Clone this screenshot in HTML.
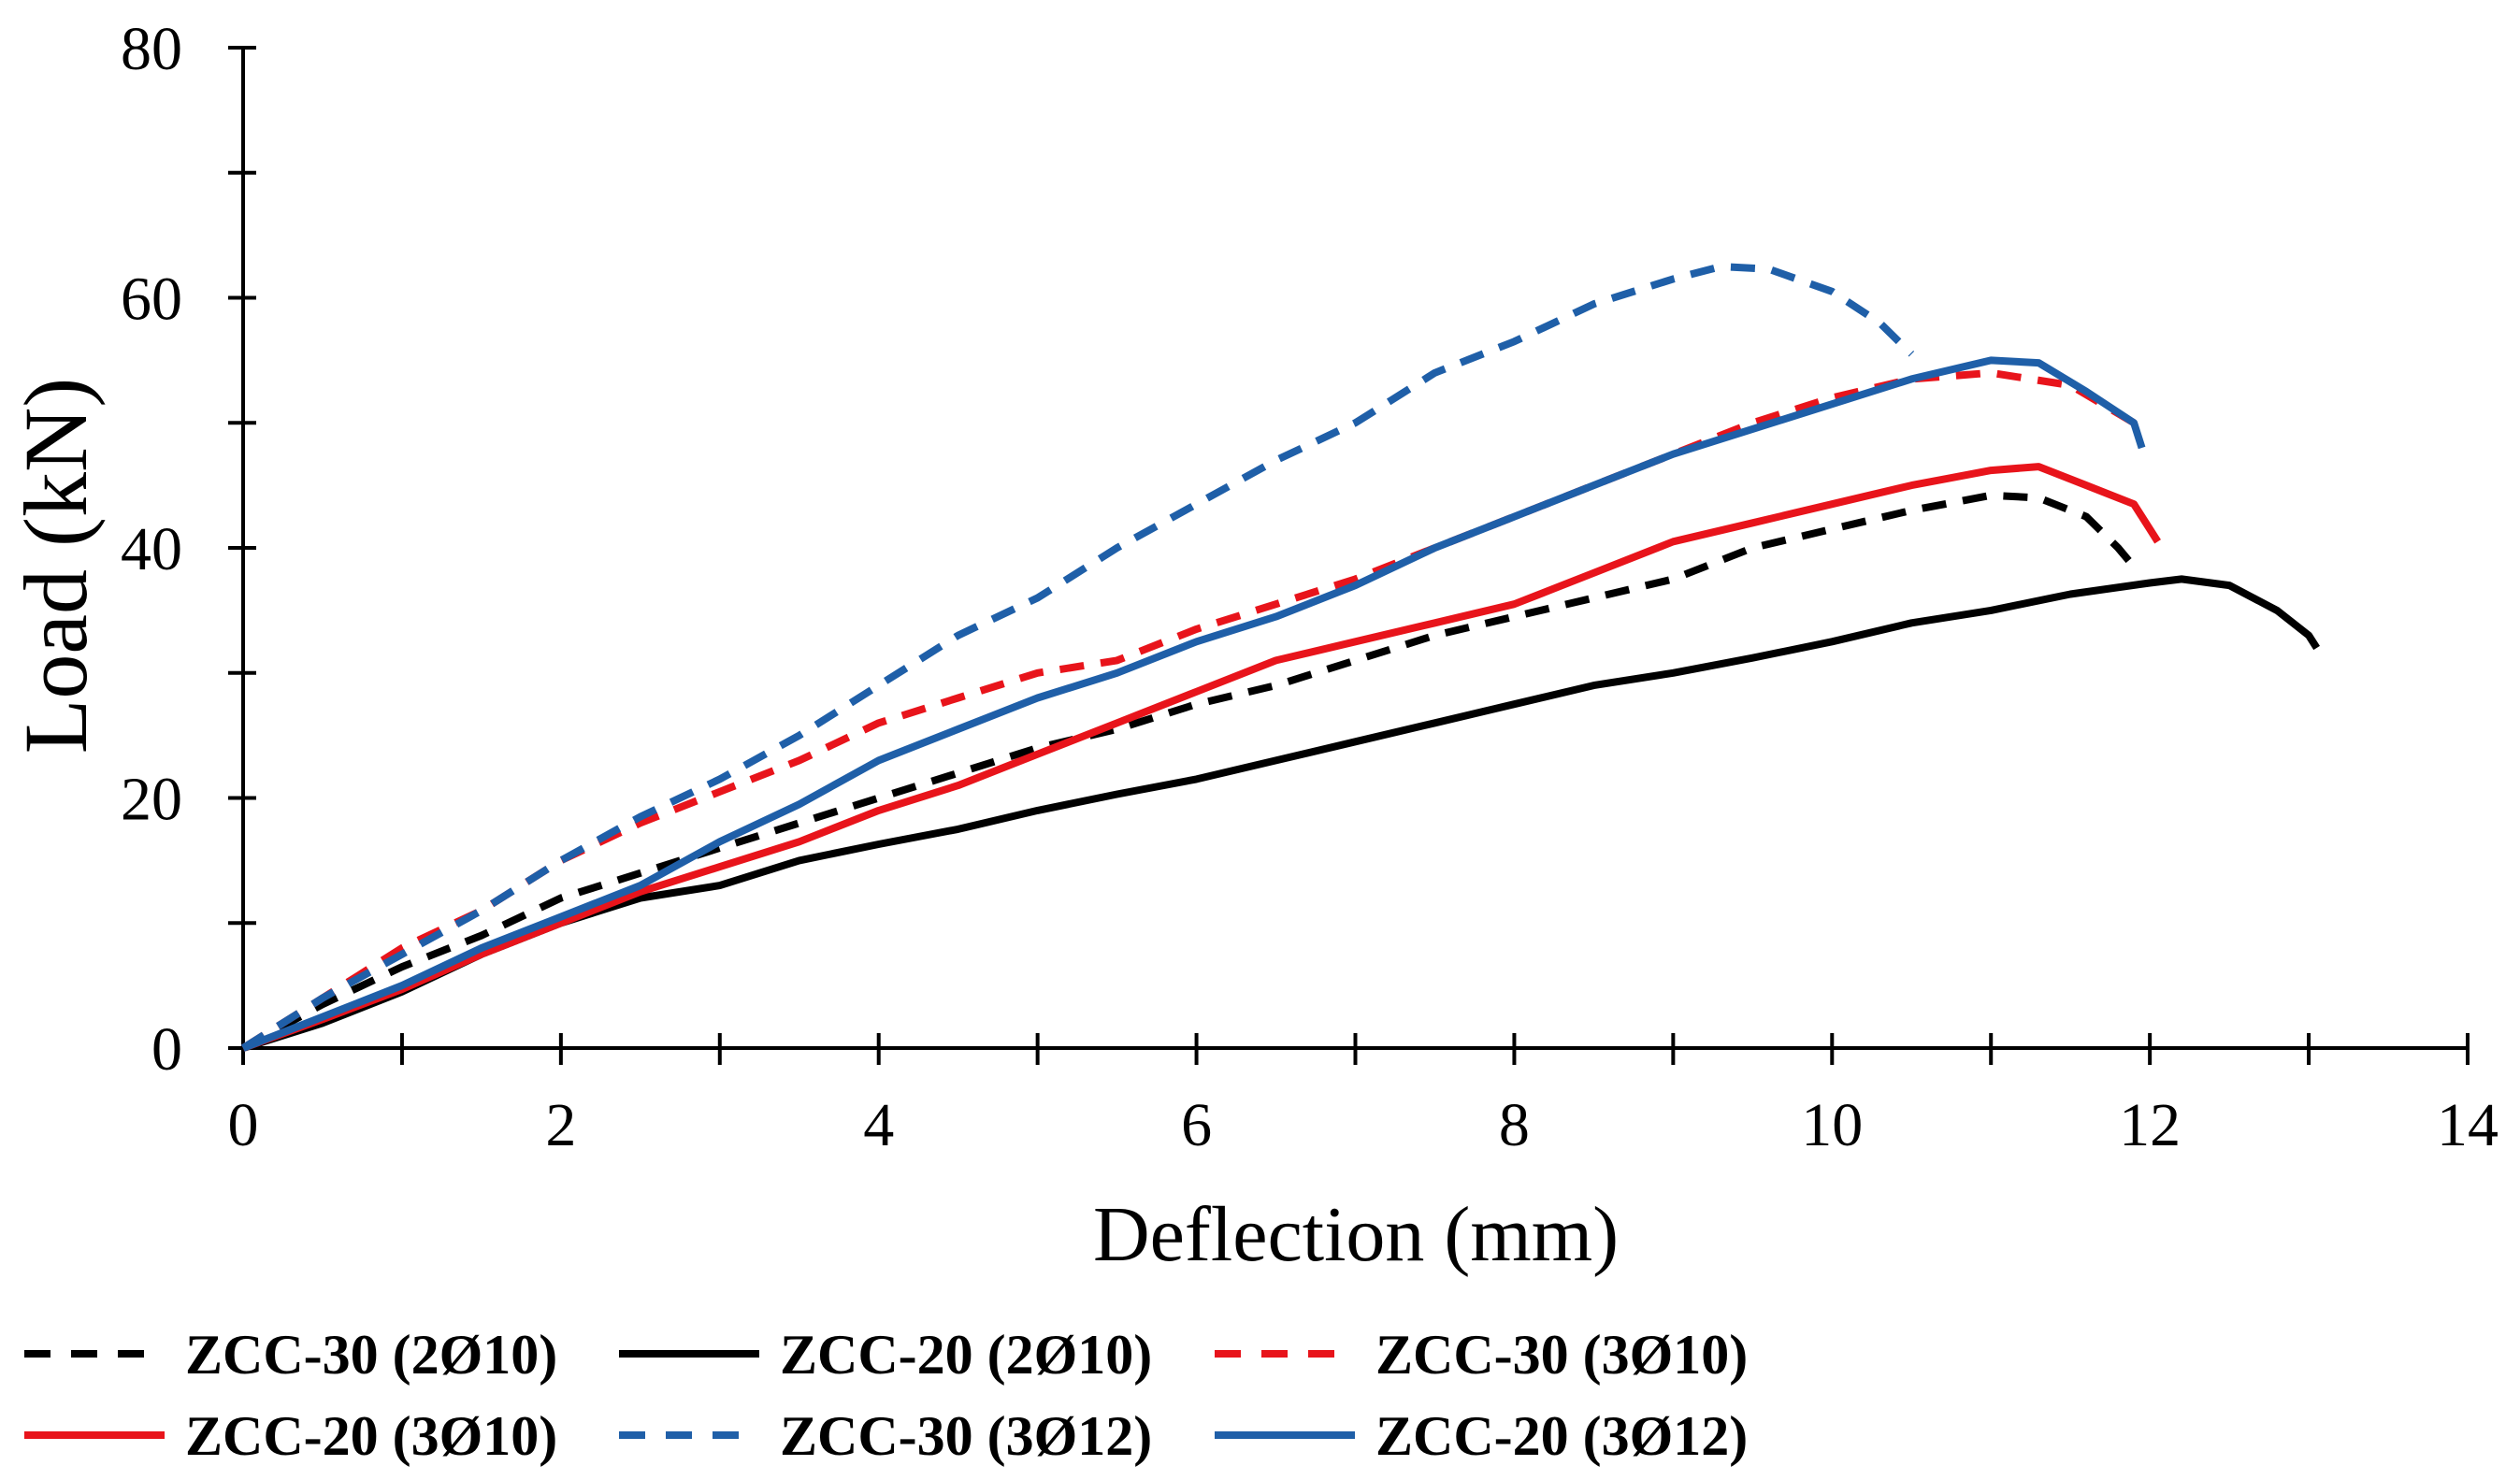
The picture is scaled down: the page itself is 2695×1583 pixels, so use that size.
<!DOCTYPE html>
<html><head><meta charset="utf-8"><style>
html,body{margin:0;padding:0;background:#fff;}
svg{display:block;font-family:"Liberation Serif",serif;}
</style></head><body>
<svg id="chart" width="2695" height="1583" viewBox="0 0 2695 1583">
<g id="axes"></g>
<g id="series"></g>
<text x="1450" y="1348" font-size="84" text-anchor="middle">Deflection (mm)</text>
<text transform="translate(92,605) rotate(-90)" font-size="96" text-anchor="middle">Load (kN)</text>
<g id="legend"></g>
</svg>
<script>
const xTicks=[0,2,4,6,8,10,12,14];
const yTicks=[0,20,40,60,80];
const seriesNames=["ZCC-30 (2Ø10)","ZCC-20 (2Ø10)","ZCC-30 (3Ø10)","ZCC-20 (3Ø10)","ZCC-30 (3Ø12)","ZCC-20 (3Ø12)"];
const s30_2d10_x=[0,0.5,1,1.5,2,2.5,3,3.5,4,4.5,5,5.5,6,6.5,7,7.5,8,8.5,9,9.5,10,10.5,11,11.3,11.6,11.8,11.9];
const s30_2d10_y=[0,3.5,6.5,9,12,14,16,18,20,22,24,25.5,27.5,29,31,33,34.5,36,37.5,40,41.5,43,44.2,44,42.5,40,38.5];
const s20_2d10_x=[0,0.5,1,1.5,2,2.5,3,3.5,4,4.5,5,5.5,6,6.5,7,7.5,8,8.5,9,9.5,10,10.5,11,11.5,12,12.2,12.5,12.8,13,13.05];
const s20_2d10_y=[0,2,4.5,7.5,10,12,13,15,16.3,17.5,19,20.3,21.5,23,24.5,26,27.5,29,30,31.2,32.5,34,35,36.3,37.2,37.5,37,35,33,32];
const s30_3d10_x=[0,0.5,1,1.5,2,2.5,3,3.5,4,4.5,5,5.5,6,6.5,7,7.5,8,8.5,9,9.5,10,10.5,11,11.5,11.9];
const s30_3d10_y=[0,4,8,11,15,18,20.5,23,26,28,30,31,33.5,35.5,37.5,40,42.5,45,47.5,50,52,53.5,54,53,50];
const s20_3d10_x=[0,0.5,1,1.5,2,2.5,3,3.5,4,4.5,5,5.5,6,6.5,7,7.5,8,8.5,9,9.5,10,10.5,11,11.3,11.6,11.9,12,12.05];
const s20_3d10_y=[0,2.3,4.7,7.5,10,12.5,14.5,16.5,19,21,23.5,26,28.5,31,32.5,34,35.5,38,40.5,42,43.5,45,46.2,46.5,45,43.5,41.5,40.5];
const s30_3d12_x=[0,0.5,1,1.5,2,2.5,3,3.5,4,4.5,5,5.5,6,6.5,7,7.5,8,8.5,9,9.3,9.6,10,10.3,10.5];
const s30_3d12_y=[0,4,7.5,11,15,18.5,21.5,25,29,33,36,40,43.5,47,50,54,56.5,59.5,61.5,62.5,62.3,60.5,58,55.5];
const s20_3d12_x=[0,0.5,1,1.5,2,2.5,3,3.5,4,4.5,5,5.5,6,6.5,7,7.5,8,8.5,9,9.5,10,10.5,11,11.3,11.6,11.9,11.95];
const s20_3d12_y=[0,2.5,5,8,10.5,13,16.5,19.5,23,25.5,28,30,32.5,34.5,37,40,42.5,45,47.5,49.5,51.5,53.5,55,54.8,52.5,50,48];

const NS="http://www.w3.org/2000/svg";
const X0=260,X1=2639,Y0=1121,Y1=51;
const xs=v=>X0+(v/14)*(X1-X0);
const ys=v=>Y0-(v/80)*(Y0-Y1);
function mk(tag,attrs,parent){const e=document.createElementNS(NS,tag);for(const k in attrs)e.setAttribute(k,attrs[k]);parent.appendChild(e);return e;}
const axes=document.getElementById('axes');
let e=mk('line',{x1:X0,y1:Y0,x2:X1,y2:Y0,stroke:'#000','stroke-width':4},axes);


e=mk('line',{x1:X0,y1:Y0+2,x2:X0,y2:Y1,stroke:'#000','stroke-width':4},axes);


for(let i=0;i<=14;i++){
 e=mk('line',{x1:xs(i),y1:Y0-16,x2:xs(i),y2:Y0+18,stroke:'#000','stroke-width':4},axes);
 
 
}
for(let i=0;i<=80;i+=10){
 e=mk('line',{x1:X0-16,y1:ys(i),x2:X0+14,y2:ys(i),stroke:'#000','stroke-width':4},axes);
 
 
}
xTicks.forEach(v=>{
 const t=mk('text',{x:xs(v),y:1225,'font-size':66,'text-anchor':'middle'},axes);
 t.textContent=v;
 
 
});
yTicks.forEach(v=>{
 const t=mk('text',{x:195,y:ys(v)+23,'font-size':66,'text-anchor':'end'},axes);
 t.textContent=v;
 
 
});
const styles=[
 {c:'#000',d:'26 18',x:s30_2d10_x,y:s30_2d10_y},
 {c:'#000',d:'',x:s20_2d10_x,y:s20_2d10_y},
 {c:'#e8141b',d:'26 18',x:s30_3d10_x,y:s30_3d10_y},
 {c:'#e8141b',d:'',x:s20_3d10_x,y:s20_3d10_y},
 {c:'#1f5fa8',d:'26 18',x:s30_3d12_x,y:s30_3d12_y},
 {c:'#1f5fa8',d:'',x:s20_3d12_x,y:s20_3d12_y}];
const sg=document.getElementById('series');
const order=[1,0,3,2,5,4];
order.forEach(i=>{
 const s=styles[i];
 const pts=s.x.map((v,k)=>xs(v).toFixed(1)+','+ys(s.y[k]).toFixed(1)).join(' ');
 const p=mk('polyline',{points:pts,fill:'none',stroke:s.c,'stroke-width':8,'stroke-linejoin':'round'},sg);
 if(s.d)p.setAttribute('stroke-dasharray',s.d);
 
 
});
const lg=document.getElementById('legend');
const colX=[26,662,1299],rowY=[1448,1535];
seriesNames.forEach((n,i)=>{
 const cx=colX[i%3],cy=rowY[Math.floor(i/3)],s=styles[i];
 const g=mk('g',{},lg);
 
 
 const l=mk('line',{x1:cx,y1:cy,x2:cx+150,y2:cy,stroke:s.c,'stroke-width':8},g);
 if(s.d)l.setAttribute('stroke-dasharray','28 22');
 const t=mk('text',{x:cx+172,y:cy+21,'font-size':60,'font-weight':'bold'},g);
 t.textContent=n;
});
</script>
</body></html>
